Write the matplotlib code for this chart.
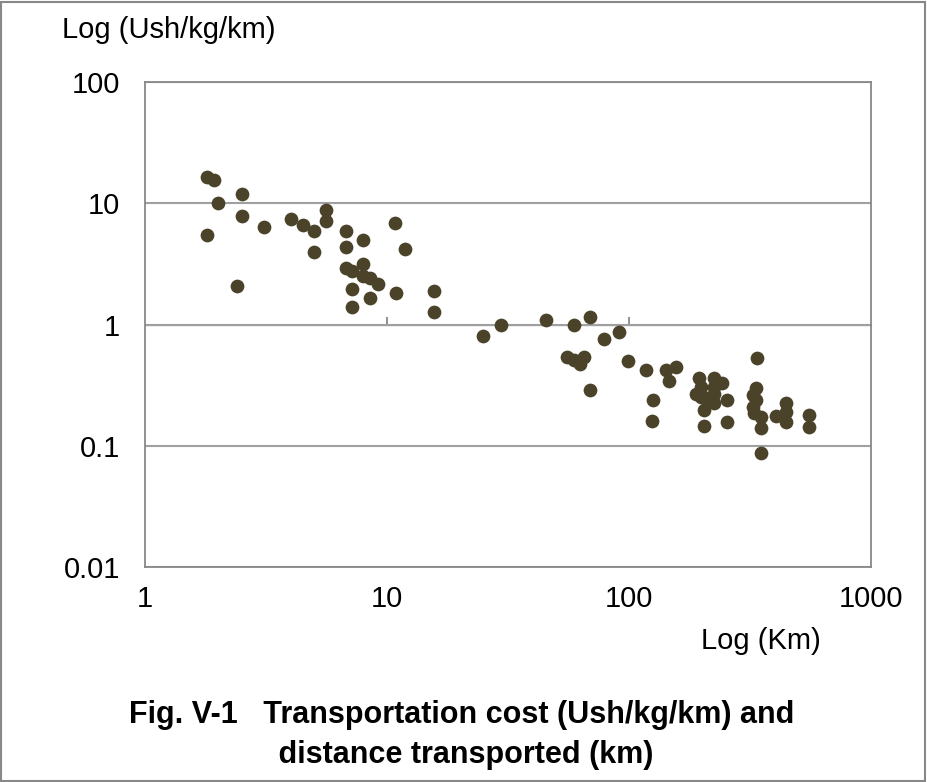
import matplotlib.pyplot as plt
from matplotlib.patches import Rectangle

plt.rcParams['font.family'] = ['Liberation Sans', 'DejaVu Sans']

# distance transported (km) and unit cost (Ush/kg/km)
dist_km = [1.80, 1.92, 2.51, 2.01, 2.51, 3.11, 1.81, 4.02, 4.49, 5.0,
           5.59, 5.59, 5.0, 6.8, 6.8, 7.98, 10.8, 6.8, 7.2, 7.98,
           7.98, 8.47, 9.14, 2.41, 7.2, 8.47, 10.85, 7.2, 11.9, 15.7,
           15.7, 24.9, 29.7, 45.5, 59.1, 68.9, 90.8, 78.7, 55.2, 59.1,
           65.1, 63.0, 68.9, 99.3, 118, 142, 157, 146, 126, 125,
           195, 198, 189, 198, 224, 224, 243, 224, 224, 204,
           254, 204, 254, 212,
           337, 334, 324, 334, 324, 329, 351, 351, 351, 404,
           445, 445, 445, 555, 555]
cost = [16.6, 15.6, 11.9, 10.0, 7.9, 6.4, 5.5, 7.4, 6.65, 5.9,
        8.8, 7.1, 3.98, 5.87, 4.38, 4.98, 6.9, 2.94, 2.76, 3.13,
        2.51, 2.40, 2.17, 2.08, 1.95, 1.66, 1.83, 1.40, 4.2, 1.89,
        1.27, 0.80, 1.0, 1.09, 1.0, 1.15, 0.87, 0.755, 0.54, 0.51,
        0.537, 0.47, 0.288, 0.50, 0.42, 0.42, 0.443, 0.34, 0.238, 0.161,
        0.36, 0.307, 0.267, 0.251, 0.36, 0.307, 0.327, 0.267, 0.224, 0.197,
        0.238, 0.146, 0.158, 0.25,
        0.526, 0.298, 0.262, 0.238, 0.21, 0.185, 0.174, 0.139, 0.0867, 0.176,
        0.224, 0.19, 0.156, 0.179, 0.144]

x_ticks = [1, 10, 100, 1000]
x_labels = ['1', '10', '100', '1000']
y_ticks = [0.01, 0.1, 1, 10, 100]
y_labels = ['0.01', '0.1', '1', '10', '100']

fig = plt.figure(figsize=(9.27, 7.82), dpi=100)
ax = fig.add_axes([0.1564, 0.2749, 0.7832, 0.6202])

ax.scatter(dist_km, cost, s=98, color='#4a4229', zorder=3, linewidths=0)

ax.set_xscale('log')
ax.set_yscale('log')
ax.set_xlim(1, 1000)
ax.set_ylim(0.01, 100)
ax.set_xticks(x_ticks)
ax.set_xticklabels(x_labels)
ax.set_yticks(y_ticks)
ax.set_yticklabels(y_labels)
ax.minorticks_off()
ax.tick_params(axis='both', length=0, labelsize=21, colors='black')
ax.tick_params(axis='x', pad=13)
ax.tick_params(axis='y', pad=18)

ax.grid(axis='y', color='#a0a0a0', lw=1.5)
for sp in ax.spines.values():
    sp.set_color('#888888')
    sp.set_linewidth(1.3)

# horizontal axis line crossing at y = 1, with its tick marks
sec = ax.secondary_xaxis(0.5)
sec.set_xticks([10, 100])
sec.tick_params(direction='out', length=6, width=1.3, color='#888888',
                labelbottom=False, labeltop=False)
sec.xaxis.set_minor_locator(plt.NullLocator())
sec.spines['bottom'].set_color('#a0a0a0')
sec.spines['bottom'].set_linewidth(1.5)

fig.text(62 / 927, 1 - 30 / 782, 'Log (Ush/kg/km)', fontsize=21,
         ha='left', va='center')
fig.text(821 / 927, 1 - 641 / 782, 'Log (Km)', fontsize=21,
         ha='right', va='center')
fig.text(462 / 927, 1 - 735 / 782,
         'Fig. V-1   Transportation cost (Ush/kg/km) and\n distance transported (km)',
         fontsize=22, fontweight='bold', ha='center', va='center',
         multialignment='center', linespacing=1.45)

# outer border of the figure
fig.patches.append(Rectangle((0.001, 0.001), 0.997, 0.997, transform=fig.transFigure,
                             fill=False, edgecolor='#888888', lw=1.5))

fig.savefig('out.png', dpi=100)
